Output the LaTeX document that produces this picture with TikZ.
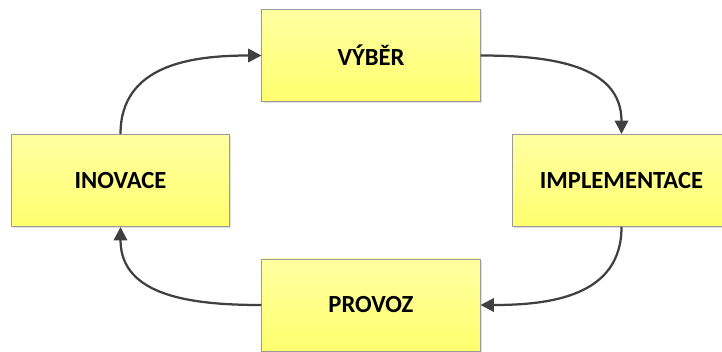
\documentclass[tikz,border=0pt]{standalone}
\usepackage{fontspec}
\setmainfont{Carlito}
\usetikzlibrary{arrows.meta,shadows}
\definecolor{boxtop}{HTML}{FFFFA2}
\definecolor{boxbot}{HTML}{FFFF6E}
\definecolor{boxline}{HTML}{9A9A9A}
\definecolor{arr}{HTML}{404040}
\begin{document}
\begin{tikzpicture}[x=0.025cm, y=-0.025cm,
  box/.style={draw=boxline, line width=0.7pt, top color=boxtop, bottom color=boxbot,
    minimum width=5.45cm, minimum height=2.3cm, inner sep=0pt,
    font=\fontsize{17.5}{19}\selectfont\bfseries,
    drop shadow={shadow xshift=1.2pt, shadow yshift=-1.2pt, fill=black!12, opacity=1}},
  link/.style={draw=arr, line width=1.6pt, looseness=1.1,
    -{Triangle[length=9.5pt,width=9.5pt]}}]
\useasboundingbox (0,0) rectangle (722,351);
\clip (0,0) rectangle (722,351);
\node[box] (vyb) at (371,55.5) {VÝBĚR};
\node[box] (inov) at (120.5,180.5) {INOVACE};
\node[box] (impl) at (621.5,180.5) {IMPLEMENTACE};
\node[box] (prov) at (371,305) {PROVOZ};

\draw[link] (inov.north) to[out=90, in=180] (vyb.west);
\draw[link] (vyb.east) to[out=0, in=90] (impl.north);
\draw[link] (impl.south) to[out=-90, in=0] (prov.east);
\draw[link] (prov.west) to[out=180, in=-90] (inov.south);
\end{tikzpicture}
\end{document}
